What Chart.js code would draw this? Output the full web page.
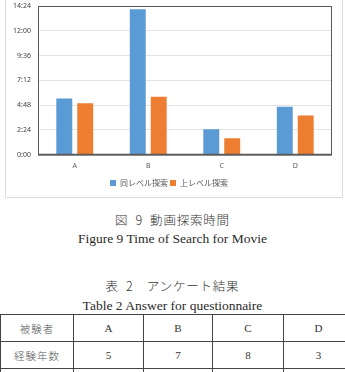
<!DOCTYPE html>
<html lang="ja">
<head>
<meta charset="UTF-8">
<title>動画探索時間</title>
<script src="https://cdn.jsdelivr.net/npm/chart.js@4"></script>
<style>
body{margin:0;background:#fff;width:345px;height:372px;overflow:hidden;position:relative;
  font-family:"Liberation Serif","Noto Sans CJK JP",serif;color:#222}
#chartBox{position:absolute;left:5px;top:-1px;width:338px;height:199px;box-sizing:border-box;
  border:1px solid #dcdcdc;background:#fff}
#chartBox canvas{display:block}
.cap{position:absolute;left:0;width:345px;text-align:center;white-space:nowrap}
.ja{font-family:"Noto Sans CJK JP",sans-serif;font-weight:300;font-size:12.5px;color:#333;letter-spacing:.8px}
.en{font-family:"Liberation Serif",serif;font-size:13.5px;color:#2a2a2a}
table{position:absolute;left:0;top:314px;border-collapse:collapse;table-layout:fixed;width:353px}
td{border:1px solid #444;height:26px;padding:0;text-align:center;font-size:11px;color:#333;
  font-family:"Liberation Serif","Noto Sans CJK JP",serif}
td.ja2{font-family:"Noto Sans CJK JP",sans-serif;font-weight:300;font-size:10.5px;letter-spacing:1px;color:#555}
</style>
</head>
<body>
<div id="chartBox"><canvas id="c" width="336" height="197"></canvas></div>

<div class="cap ja" style="top:210px">図&nbsp; 9&nbsp; 動画探索時間</div>
<div class="cap en" style="top:231px">Figure 9 Time of Search for Movie</div>
<div class="cap ja" style="top:276px">表&nbsp; 2　アンケート結果</div>
<div class="cap en" style="top:298px">Table 2 Answer for questionnaire</div>

<table>
  <colgroup><col style="width:73px"><col style="width:70px"><col style="width:69px"><col style="width:71px"><col style="width:70px"></colgroup>
  <tr><td class="ja2">被験者</td><td>A</td><td>B</td><td>C</td><td>D</td></tr>
  <tr><td class="ja2">経験年数</td><td>5</td><td>7</td><td>8</td><td>3</td></tr>
  <tr><td class="ja2">自分の実力</td><td class="ja2">中上級者</td><td class="ja2">中上級者</td><td class="ja2">上級者</td><td class="ja2">初級者</td></tr>
</table>

<script>
// 被験者ごとの探索時間（秒）
const subjects=["A","B","C","D"];
const sameLevel=[326,845,148,278];
const upperLevel=[298,336,95,227];
const seriesNames=["同レベル探索","上レベル探索"];
const Y_MAX=864, Y_STEP=144;

const fmt=v=>{const m=Math.floor(v/60),s=Math.round(v%60);return m+":"+String(s).padStart(2,"0");};

const frame={
  id:"frame",
  afterDraw(chart){
    const {ctx,chartArea:a}=chart;
    ctx.save();
    ctx.strokeStyle="#595959";ctx.lineWidth=1;
    ctx.strokeRect(a.left+.5,a.top+.5,a.right-a.left-1,a.bottom-a.top);
    ctx.lineWidth=1.5;
    ctx.beginPath();ctx.moveTo(a.left,a.bottom);ctx.lineTo(a.right,a.bottom);ctx.stroke();
    ctx.restore();
  }
};

new Chart(document.getElementById("c"),{
  type:"bar",
  data:{labels:subjects,datasets:[
    {label:seriesNames[0],data:sameLevel,backgroundColor:"#5B9BD5"},
    {label:seriesNames[1],data:upperLevel,backgroundColor:"#ED7D31"}
  ]},
  options:{
    responsive:false,devicePixelRatio:1,animation:false,
    categoryPercentage:0.57,barPercentage:0.76,
    layout:{padding:{top:0,right:10,left:0,bottom:0}},
    plugins:{
      tooltip:{enabled:false},
      legend:{position:"bottom",labels:{boxWidth:6,boxHeight:6,padding:2,color:"#595959",
        font:{family:"'Noto Sans CJK JP',sans-serif",size:8}}}
    },
    scales:{
      x:{grid:{display:false,drawTicks:false},border:{display:false},
        ticks:{color:"#595959",padding:7,font:{family:"'Noto Sans',sans-serif",size:7}}},
      y:{min:0,max:Y_MAX,border:{display:false},
        grid:{color:"#e3e3e3",drawTicks:false},
        ticks:{stepSize:Y_STEP,padding:7,color:"#404040",callback:v=>fmt(v),
          font:{family:"'Noto Sans',sans-serif",size:7}},
        afterFit(s){s.width=32;s.paddingTop=6;}}
    }
  },
  plugins:[frame]
});
</script>
</body>
</html>
